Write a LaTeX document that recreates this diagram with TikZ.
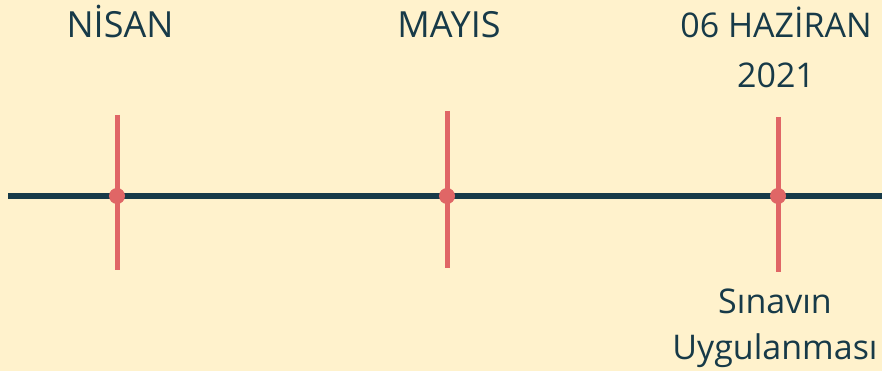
\documentclass[tikz,border=0pt]{standalone}
\usepackage{fontspec}
\setmainfont{Open Sans}
\usetikzlibrary{calc,positioning}
\definecolor{paper}{HTML}{FFF2CC}
\definecolor{ink}{HTML}{173A48}
\definecolor{coral}{HTML}{E06666}

\tikzset{
  axis/.style={draw=ink,line width=6pt},
  tick/.style={draw=coral,line width=5pt},
  knot/.style={circle,fill=coral,inner sep=0pt,minimum size=16pt},
  stamp/.style={text=ink,font=\fontsize{36}{48}\selectfont,align=center,anchor=base,inner sep=0pt}
}

\begin{document}
\begin{tikzpicture}[x=1pt,y=-1pt]
\fill[paper] (0,0) rectangle (882,371);
\useasboundingbox (0,0) rectangle (882,371);
% axis
\coordinate (start) at (8,196);
\coordinate (end) at (890,196);
\draw[axis] (start) -- (end);
% months
\node[knot] (nisan) at (117,196) {};
\node[knot] (mayis) at (447,196) {};
\node[knot] (haziran) at (778,196) {};
\coordinate (nisan top) at (117,115);  \coordinate (nisan bot) at (117,270);
\coordinate (mayis top) at (447,111);  \coordinate (mayis bot) at (447,268);
\coordinate (haziran top) at (778,117); \coordinate (haziran bot) at (778,272);
\draw[tick] (nisan top) -- (nisan bot);
\draw[tick] (mayis top) -- (mayis bot);
\draw[tick] (haziran top) -- (haziran bot);
\node[stamp] (nisan label) at (120,38) {NİSAN};
\node[stamp] (mayis label) at (449,38) {MAYIS};
\node[stamp,font=\fontsize{34}{50}\selectfont] (haziran label) at (776,88) {06 HAZİRAN\\2021};
\node[stamp,font=\fontsize{34}{46}\selectfont] (sinav label) at (775,359) {Sınavın\\Uygulanması};
\end{tikzpicture}
\end{document}
